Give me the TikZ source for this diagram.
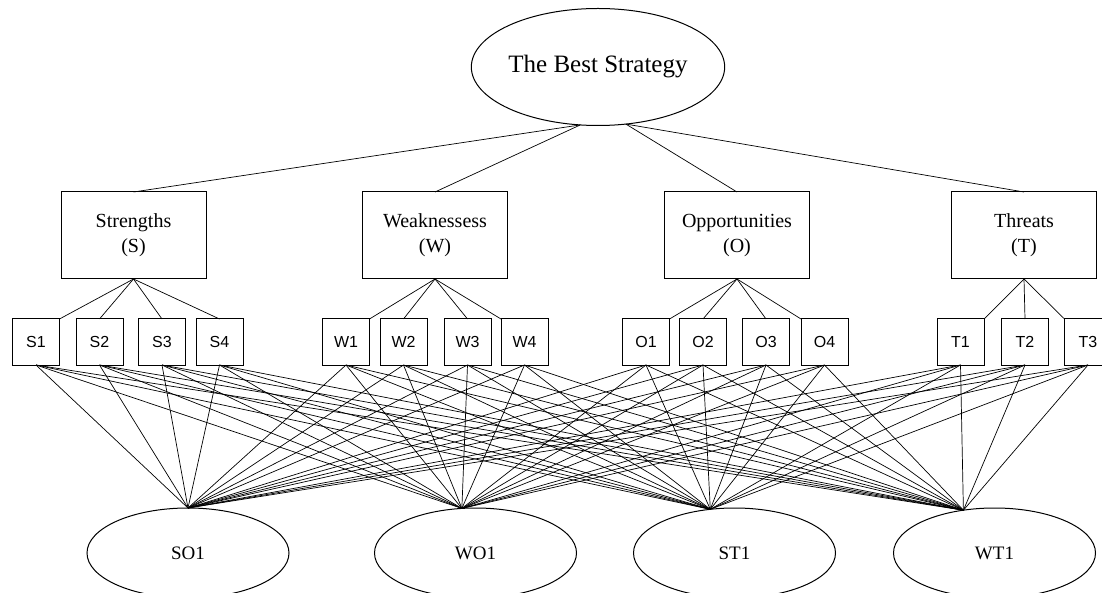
\documentclass[tikz,border=0pt]{standalone}
\usepackage{fontspec}
\setmainfont{Liberation Serif}
\newfontfamily\boxsans{Liberation Sans}
\usetikzlibrary{shapes.geometric}

\tikzset{
  goalnode/.style={draw, ellipse, line width=1pt, inner sep=0pt, outer sep=0pt,
    minimum width=240pt, minimum height=117pt, font=\fontsize{25}{30}\selectfont},
  factorbox/.style={draw, rectangle, line width=1pt, inner sep=0pt, outer sep=0pt,
    minimum width=145pt, minimum height=87pt, align=center,
    font=\fontsize{20}{25}\selectfont},
  subbox/.style={draw, rectangle, line width=1pt, inner sep=0pt, outer sep=0pt,
    minimum width=47pt, minimum height=46pt, font=\boxsans\fontsize{16}{19}\selectfont},
  stratnode/.style={draw, ellipse, line width=1pt, inner sep=0pt, outer sep=0pt,
    minimum width=202pt, minimum height=90pt, font=\fontsize{19}{23}\selectfont},
  wire/.style={line width=0.7pt}
}

\begin{document}
\begin{tikzpicture}[x=1pt, y=-1pt]
    \useasboundingbox (0,0) rectangle (1102,593);
    \clip (0,0) rectangle (1102,593);
    % goal
    \node[goalnode] (best) at (598,67) {The Best Strategy};
    % SWOT groups
    \node[factorbox] (S) at (133.5,235.5) {Strengths\\(S)};
    \node[factorbox] (W) at (435,235.5) {Weaknessess\\(W)};
    \node[factorbox] (O) at (737,235.5) {Opportunities\\(O)};
    \node[factorbox] (T) at (1024,235.5) {Threats\\(T)};
    % sub-factors
    \foreach \n/\xx in {1/36, 2/99.5, 3/162, 4/219.5}
        \node[subbox] (S\n) at (\xx,342) {S\n};
    \foreach \n/\xx in {1/346, 2/403.5, 3/467.5, 4/524.5}
        \node[subbox] (W\n) at (\xx,342) {W\n};
    \foreach \n/\xx in {1/646, 2/703, 3/766, 4/824.5}
        \node[subbox] (O\n) at (\xx,342) {O\n};
    \foreach \n/\xx in {1/960.5, 2/1025, 3/1088}
        \node[subbox] (T\n) at (\xx,342) {T\n};
    % strategies
    \node[stratnode] (SO1) at (188,553) {SO1};
    \node[stratnode] (WO1) at (475.5,553) {WO1};
    \node[stratnode] (ST1) at (734.5,553) {ST1};
    \node[stratnode] (WT1) at (994.5,553) {WT1};
    % goal to groups
    \foreach \g in {S,W}
        \draw[wire] (best.253) -- (\g.north);
    \foreach \g in {O,T}
        \draw[wire] (best.296) -- (\g.north);
    % groups to sub-factors
    \draw[wire] (S.south) -- (S1.north east);
    \foreach \n in {2,3,4}
        \draw[wire] (S.south) -- (S\n.north);
    \foreach \g in {W,O} {
        \draw[wire] (\g.south) -- (\g1.north east);
        \draw[wire] (\g.south) -- (\g2.north);
        \draw[wire] (\g.south) -- (\g3.north);
        \draw[wire] (\g.south) -- (\g4.north west);
    }
    \draw[wire] (T.south) -- (T1.north east);
    \draw[wire] (T.south) -- (T2.north);
    \draw[wire] (T.south) -- (T3.north west);
    % every sub-factor to every strategy
    \foreach \f in {S1,S2,S3,S4,W1,W2,W3,W4,O1,O2,O3,O4,T1,T2,T3}
        \foreach \s/\a in {SO1/90, WO1/107, ST1/119, WT1/126}
            \draw[wire] (\f.south) -- (\s.\a);
\end{tikzpicture}
\end{document}
